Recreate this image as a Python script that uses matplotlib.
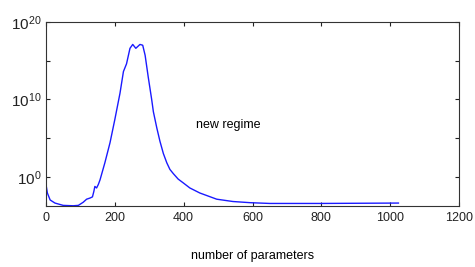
import matplotlib
matplotlib.use("Agg")
import matplotlib.pyplot as plt
import numpy as np

# number of parameters
n_params = [0, 4, 12, 26, 50, 79, 94, 108, 118, 128, 135, 139, 142, 147, 152, 157,
            171, 186, 200, 215, 225, 234, 244, 252, 261, 273, 281, 288, 297, 307,
            312, 322, 331, 341, 351, 360, 370, 384, 399, 418, 447, 496, 543, 593,
            650, 800, 1024]
# log10 of plotted quantity
log_values = [-1.0, -2.1, -3.0, -3.4, -3.7, -3.75, -3.7, -3.3, -2.9, -2.75, -2.6, -1.9,
              -1.25, -1.45, -1.0, -0.4, 1.8, 4.4, 7.4, 10.8, 13.6, 14.6, 16.6, 17.1,
              16.6, 17.1, 17.0, 15.7, 12.9, 10.0,
              8.4, 6.3, 4.6, 3.0, 1.8, 0.95, 0.4, -0.3, -0.8, -1.45, -2.1, -2.9,
              -3.2, -3.35, -3.45, -3.45, -3.4]
x_ticks = [0, 200, 400, 600, 800, 1000, 1200]
y_ticks = [1e0, 1e5, 1e10, 1e15, 1e20]
y_tick_labels = [r"$10^{0}$", "", r"$10^{10}$", "", r"$10^{20}$"]

plt.rcParams['font.family'] = ['Liberation Sans', 'DejaVu Sans']
plt.rcParams['mathtext.fontset'] = 'custom'
plt.rcParams['mathtext.rm'] = 'Liberation Sans'
plt.rcParams['mathtext.it'] = 'Liberation Sans'

fig = plt.figure(figsize=(4.75, 2.67), dpi=100)
ax = fig.add_axes([46/475, 1-206/267, (459-46)/475, (206-22)/267])

y = [10.0**v for v in log_values]
ax.plot(n_params, y, color=(0.1, 0.1, 1.0), lw=1.0)
ax.set_yscale('log')
ax.set_xlim(0, 1200)
ax.set_ylim(10**-3.78, 1e20)
ax.set_xticks(x_ticks)
ax.set_yticks(y_ticks)
ax.set_yticklabels(y_tick_labels)
ax.yaxis.set_minor_locator(matplotlib.ticker.NullLocator())
ax.tick_params(direction='in', length=3, width=0.8, top=True, right=True,
               labelsize=9, colors='#222222', pad=4)
ax.tick_params(axis='y', labelsize=11, pad=3)
for s in ax.spines.values():
    s.set_color('#333333')
    s.set_linewidth(0.8)

ax.text(529, 10**6.7, "new regime", fontsize=9, ha='center', va='center')
ax.set_xlabel("number of parameters", fontsize=9, labelpad=19)

fig.savefig("out.png", dpi=100)
